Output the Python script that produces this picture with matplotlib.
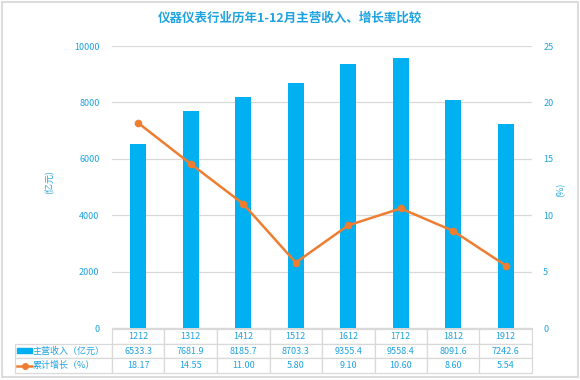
import matplotlib
matplotlib.use("Agg")
import matplotlib.pyplot as plt
from matplotlib.patches import Rectangle
from matplotlib.lines import Line2D

plt.rcParams['font.family'] = ['Noto Sans CJK SC', 'DejaVu Sans']

categories = ['1212', '1312', '1412', '1512', '1612', '1712', '1812', '1912']
revenue = [6533.3, 7681.9, 8185.7, 8703.3, 9355.4, 9558.4, 8091.6, 7242.6]
growth = [18.17, 14.55, 11.00, 5.80, 9.10, 10.60, 8.60, 5.54]
revenue_name = '主营收入（亿元）'
growth_name = '累计增长（%）'
title = '仪器仪表行业历年1-12月主营收入、增长率比较'
left_ticks = [0, 2000, 4000, 6000, 8000, 10000]
right_ticks = [0, 5, 10, 15, 20, 25]

BLUE = '#00b0f0'
ORANGE = '#ed7d31'
TXT = '#1fa3e0'
GRID = '#d9d9d9'

W, H = 580, 380
fig = plt.figure(figsize=(W / 100, H / 100), dpi=100)
fig.patch.set_facecolor('white')

ax_l, ax_r, ax_t, ax_b = 112, 532, 46, 328
ax = fig.add_axes([ax_l / W, 1 - ax_b / H, (ax_r - ax_l) / W, (ax_b - ax_t) / H])
ax2 = ax.twinx()

x = list(range(len(categories)))
ax.bar(x, revenue, width=0.30, color=BLUE, zorder=3)
ax.set_xlim(-0.5, len(categories) - 0.5)
ax.set_ylim(0, 10000)
ax.set_yticks(left_ticks)
ax.yaxis.grid(True, color=GRID, linewidth=0.9, zorder=0)
ax.set_axisbelow(True)
ax.set_xticks([])
for s in ['top', 'left', 'right']:
    ax.spines[s].set_visible(False)
ax.spines['bottom'].set_color(GRID)
ax.tick_params(axis='y', length=0, pad=9, labelsize=6.5, labelcolor=TXT)

ax2.plot(x, growth, color=ORANGE, linewidth=1.8, marker='o', markersize=4.5, zorder=4)
ax2.set_ylim(0, 25)
ax2.set_yticks(right_ticks)
for s in ['top', 'left', 'right', 'bottom']:
    ax2.spines[s].set_visible(False)
ax2.tick_params(axis='y', length=0, pad=8, labelsize=6.5, labelcolor=TXT)

fig.text(50 / W, 1 - 182 / H, '(亿元)', rotation=90, ha='center', va='center',
         fontsize=6.5, color=TXT)
fig.text(561 / W, 1 - 190 / H, '(%)', rotation=90, ha='center', va='center',
         fontsize=6.5, color=TXT)

fig.text(0.5, 1 - 18 / H, title, ha='center', va='center', fontsize=9,
         fontweight='bold', color=TXT)

# data table
tab_l, tab_t, tab_b = 15, 329, 373
cell_text = [[''] + categories,
             [revenue_name] + [f'{v:.1f}' for v in revenue],
             [growth_name] + [f'{v:.2f}' for v in growth]]
axw = ax_r - ax_l
axh = ax_b - ax_t
bbox = [(tab_l - ax_l) / axw, -(tab_b - ax_b) / axh, (ax_r - tab_l) / axw, (tab_b - tab_t) / axh]
lab_w = (ax_l - tab_l)
col_w = (ax_r - ax_l) / len(categories)
tbl = ax.table(cellText=cell_text, colWidths=[lab_w] + [col_w] * len(categories),
               cellLoc='center', bbox=bbox)
tbl.auto_set_font_size(False)
tbl.set_fontsize(6.5)
for (r, c), cell in tbl.get_celld().items():
    cell.set_edgecolor(GRID)
    cell.set_linewidth(0.9)
    cell.get_text().set_color(TXT)
    if c == 0:
        cell._loc = 'left'
        cell.PAD = 0.18
        cell.get_text().set_ha('left')
    if r == 0 and c == 0:
        cell.visible_edges = ''
tbl.set_clip_on(False)

# legend keys in the table
fig.add_artist(Rectangle((17 / W, 1 - 353 / H), 15 / W, 5 / H, transform=fig.transFigure,
                         color=BLUE))
fig.add_artist(Line2D([17 / W, 32 / W], [1 - 366 / H, 1 - 366 / H], transform=fig.transFigure,
                      color=ORANGE, linewidth=1.8, marker=None))
fig.add_artist(Line2D([24.5 / W], [1 - 366 / H], transform=fig.transFigure,
                      color=ORANGE, marker='o', markersize=4))

# outer frame
fig.add_artist(Rectangle((1.5 / W, 1 - 377 / H), 576 / W, 375.5 / H, transform=fig.transFigure,
                         fill=False, edgecolor='#dcdcdc', linewidth=1.5))

fig.savefig('out.png', dpi=100, facecolor='white')
